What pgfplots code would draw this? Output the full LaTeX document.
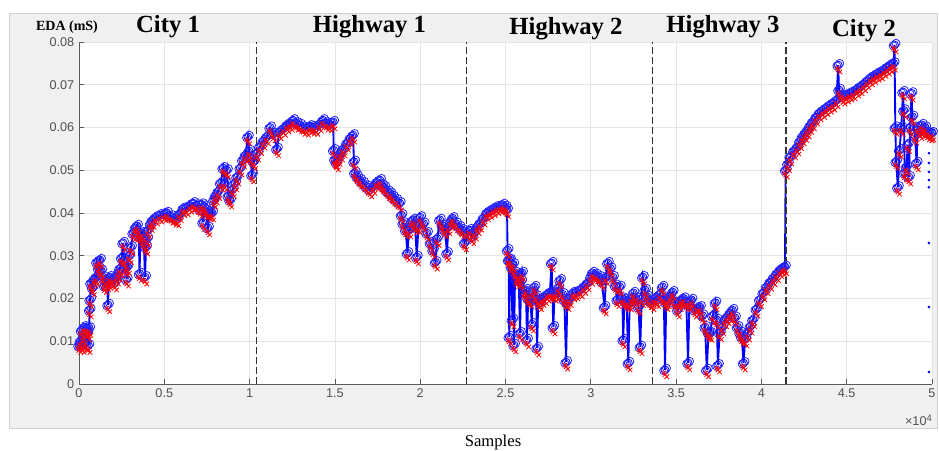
\documentclass[border=0pt]{standalone}
\usepackage{fontspec}
\setmainfont{Liberation Sans}
\newfontfamily\tnr{Liberation Serif}
\usepackage{pgfplots}
\usepackage{pgfplotstable}
\pgfplotsset{compat=1.18}
\definecolor{figgray}{HTML}{F0F0F0}
\definecolor{gridgray}{HTML}{E4E4E4}
\definecolor{axgray}{HTML}{5A5A5A}
\definecolor{tickgray}{HTML}{505050}
\definecolor{mblue}{RGB}{0,0,255}
\definecolor{mred}{RGB}{255,0,0}
\pgfplotstableread{
x b
0.000 0.0090
0.008 0.0100
0.015 0.0125
0.020 0.0090
0.025 0.0110
0.030 0.0133
0.038 0.0095
0.045 0.0130
0.050 0.0120
0.055 0.0090
0.060 0.0130
0.062 0.0173
0.065 0.0197
0.070 0.0236
0.080 0.0225
0.090 0.0245
0.100 0.0250
0.105 0.0285
0.115 0.0270
0.123 0.0290
0.130 0.0265
0.140 0.0250
0.150 0.0230
0.160 0.0240
0.165 0.0236
0.170 0.0185
0.175 0.0240
0.180 0.0250
0.195 0.0245
0.210 0.0236
0.220 0.0250
0.230 0.0260
0.240 0.0270
0.250 0.0295
0.258 0.0330
0.265 0.0290
0.275 0.0270
0.280 0.0245
0.285 0.0275
0.295 0.0300
0.305 0.0320
0.317 0.0353
0.330 0.0365
0.340 0.0370
0.350 0.0350
0.355 0.0258
0.360 0.0345
0.370 0.0353
0.380 0.0330
0.387 0.0250
0.393 0.0320
0.400 0.0340
0.405 0.0360
0.420 0.0375
0.430 0.0383
0.450 0.0390
0.475 0.0395
0.500 0.0398
0.515 0.0400
0.540 0.0392
0.560 0.0388
0.575 0.0386
0.590 0.0398
0.610 0.0410
0.630 0.0412
0.650 0.0418
0.670 0.0423
0.690 0.0418
0.710 0.0408
0.720 0.0420
0.727 0.0378
0.735 0.0415
0.745 0.0405
0.756 0.0365
0.765 0.0400
0.780 0.0400
0.790 0.0430
0.800 0.0440
0.815 0.0450
0.830 0.0470
0.845 0.0505
0.855 0.0470
0.867 0.0500
0.875 0.0440
0.885 0.0430
0.900 0.0455
0.915 0.0470
0.926 0.0484
0.945 0.0505
0.960 0.0524
0.975 0.0535
0.990 0.0578
0.997 0.0545
1.005 0.0530
1.014 0.0489
1.025 0.0520
1.043 0.0540
1.060 0.0555
1.080 0.0568
1.100 0.0578
1.120 0.0600
1.140 0.0585
1.160 0.0550
1.175 0.0590
1.200 0.0598
1.220 0.0606
1.240 0.0610
1.255 0.0617
1.275 0.0610
1.295 0.0606
1.315 0.0600
1.335 0.0598
1.355 0.0603
1.370 0.0601
1.390 0.0600
1.410 0.0608
1.430 0.0617
1.450 0.0610
1.470 0.0608
1.490 0.0613
1.493 0.0547
1.500 0.0525
1.510 0.0517
1.520 0.0530
1.535 0.0540
1.550 0.0550
1.570 0.0563
1.590 0.0575
1.606 0.0582
1.612 0.0520
1.617 0.0494
1.630 0.0485
1.647 0.0477
1.665 0.0470
1.685 0.0462
1.706 0.0454
1.725 0.0462
1.745 0.0472
1.764 0.0477
1.775 0.0465
1.790 0.0460
1.810 0.0450
1.825 0.0445
1.840 0.0437
1.860 0.0430
1.880 0.0423
1.890 0.0395
1.900 0.0376
1.915 0.0360
1.925 0.0306
1.935 0.0360
1.950 0.0380
1.960 0.0384
1.970 0.0370
1.980 0.0297
1.990 0.0370
2.000 0.0390
2.020 0.0375
2.040 0.0353
2.060 0.0330
2.075 0.0313
2.090 0.0285
2.100 0.0340
2.115 0.0384
2.130 0.0370
2.145 0.0360
2.157 0.0306
2.165 0.0367
2.180 0.0380
2.190 0.0388
2.210 0.0375
2.230 0.0367
2.245 0.0360
2.260 0.0330
2.275 0.0355
2.290 0.0360
2.305 0.0344
2.320 0.0355
2.335 0.0368
2.350 0.0376
2.370 0.0388
2.390 0.0400
2.410 0.0405
2.430 0.0410
2.450 0.0414
2.470 0.0416
2.485 0.0419
2.500 0.0414
2.509 0.0407
2.512 0.0313
2.518 0.0290
2.522 0.0110
2.526 0.0290
2.535 0.0274
2.540 0.0150
2.545 0.0280
2.550 0.0091
2.556 0.0260
2.567 0.0243
2.577 0.0255
2.585 0.0119
2.592 0.0240
2.597 0.0260
2.610 0.0213
2.620 0.0220
2.626 0.0103
2.633 0.0200
2.645 0.0197
2.655 0.0140
2.660 0.0215
2.670 0.0227
2.680 0.0205
2.685 0.0084
2.692 0.0195
2.700 0.0190
2.715 0.0200
2.730 0.0204
2.745 0.0210
2.760 0.0213
2.770 0.0283
2.775 0.0213
2.780 0.0133
2.788 0.0210
2.800 0.0213
2.810 0.0225
2.820 0.0243
2.835 0.0210
2.845 0.0197
2.855 0.0051
2.862 0.0190
2.875 0.0200
2.896 0.0213
2.915 0.0215
2.940 0.0220
2.960 0.0228
2.980 0.0236
3.000 0.0250
3.010 0.0260
3.030 0.0255
3.050 0.0250
3.065 0.0240
3.080 0.0180
3.090 0.0250
3.100 0.0283
3.115 0.0270
3.130 0.0250
3.145 0.0230
3.155 0.0197
3.170 0.0227
3.185 0.0200
3.190 0.0103
3.197 0.0197
3.210 0.0190
3.220 0.0049
3.228 0.0190
3.240 0.0200
3.250 0.0213
3.265 0.0200
3.280 0.0180
3.290 0.0087
3.298 0.0200
3.305 0.0250
3.318 0.0220
3.330 0.0204
3.345 0.0195
3.360 0.0190
3.375 0.0200
3.390 0.0197
3.405 0.0210
3.420 0.0227
3.428 0.0200
3.435 0.0033
3.442 0.0190
3.450 0.0197
3.465 0.0205
3.480 0.0215
3.495 0.0190
3.510 0.0173
3.520 0.0190
3.530 0.0197
3.545 0.0200
3.560 0.0190
3.570 0.0049
3.578 0.0190
3.590 0.0197
3.610 0.0173
3.625 0.0178
3.640 0.0180
3.655 0.0160
3.670 0.0133
3.680 0.0033
3.690 0.0120
3.700 0.0119
3.715 0.0160
3.730 0.0190
3.738 0.0150
3.745 0.0044
3.755 0.0120
3.770 0.0133
3.785 0.0150
3.800 0.0157
3.815 0.0165
3.830 0.0173
3.845 0.0155
3.860 0.0133
3.875 0.0120
3.885 0.0110
3.895 0.0049
3.905 0.0105
3.920 0.0119
3.935 0.0135
3.950 0.0150
3.970 0.0175
3.990 0.0197
4.010 0.0213
4.030 0.0227
4.050 0.0238
4.070 0.0248
4.090 0.0258
4.110 0.0267
4.125 0.0271
4.138 0.0274
4.142 0.0500
4.155 0.0515
4.168 0.0531
4.190 0.0545
4.210 0.0554
4.225 0.0567
4.240 0.0578
4.255 0.0586
4.270 0.0594
4.285 0.0604
4.300 0.0613
4.320 0.0624
4.340 0.0634
4.360 0.0640
4.380 0.0646
4.400 0.0652
4.420 0.0657
4.440 0.0664
4.450 0.0746
4.455 0.0688
4.470 0.0675
4.480 0.0671
4.500 0.0676
4.520 0.0680
4.540 0.0683
4.560 0.0690
4.580 0.0695
4.600 0.0702
4.620 0.0709
4.640 0.0716
4.660 0.0721
4.680 0.0726
4.700 0.0730
4.720 0.0736
4.740 0.0741
4.755 0.0746
4.775 0.0750
4.780 0.0793
4.785 0.0600
4.790 0.0520
4.800 0.0460
4.810 0.0547
4.820 0.0600
4.830 0.0683
4.835 0.0640
4.840 0.0494
4.850 0.0508
4.858 0.0560
4.865 0.0484
4.872 0.0600
4.880 0.0680
4.885 0.0625
4.900 0.0580
4.910 0.0517
4.915 0.0600
4.930 0.0590
4.940 0.0606
4.950 0.0595
4.960 0.0600
4.975 0.0587
4.990 0.0585
5.000 0.0587
}\eda
\begin{document}
\begin{tikzpicture}[x=0.75pt,y=0.75pt]
\useasboundingbox (0,0) rectangle (939,450);
\fill[white] (0,0) rectangle (939,450);
\filldraw[fill=figgray, draw=black!18, line width=0.6pt] (9,22) rectangle (937,437);
\begin{axis}[
  at={(59.25pt,49.5pt)}, anchor=south west,
  scale only axis, width=639.75pt, height=256.5pt,
  xmin=0, xmax=5, ymin=0, ymax=0.08,
  axis background/.style={fill=white},
  xtick={0,0.5,1,1.5,2,2.5,3,3.5,4,4.5,5},
  xticklabels={0,0.5,1,1.5,2,2.5,3,3.5,4,4.5,5},
  ytick={0,0.01,0.02,0.03,0.04,0.05,0.06,0.07,0.08},
  yticklabels={0,0.01,0.02,0.03,0.04,0.05,0.06,0.07,0.08},
  grid=major, major grid style={gridgray, line width=0.6pt},
  axis x line*=bottom, axis y line*=left,
  axis line style={axgray, line width=0.6pt, -},
  tick style={axgray, line width=0.6pt}, major tick length=3.5pt, tick align=inside,
  ticklabel style={font=\fontsize{9.5}{10}\selectfont, text=tickgray},
  scaled ticks=false, clip=false,
]
% blue signal with circle markers (peaks)
\addplot[mblue, line width=1.4pt, mark=o, mark size=3pt, mark options={solid, line width=0.6pt}] table[x=x, y=b]{\eda};
\addplot[only marks, mblue!85!white, mark=o, mark size=3pt, mark options={line width=0.6pt}] table[x expr=\thisrow{x}+0.009, y expr=\thisrow{b}+0.0004]{\eda};
\addplot[only marks, mblue!85!white, mark=o, mark size=3pt, mark options={line width=0.6pt}] table[x expr=\thisrow{x}-0.008, y expr=\thisrow{b}-0.0002]{\eda};
% red x markers (troughs)
\addplot[only marks, mred, mark=x, mark size=2.4pt, mark options={line width=0.6pt}] table[x=x, y expr=\thisrow{b}-0.0011]{\eda};
\addplot[only marks, mred, mark=x, mark size=2.4pt, mark options={line width=0.6pt}] table[x expr=\thisrow{x}+0.010, y expr=\thisrow{b}-0.0016]{\eda};
\addplot[only marks, mred, mark=x, mark size=2.4pt, mark options={line width=0.6pt}] table[x expr=\thisrow{x}-0.006, y expr=\thisrow{b}-0.0007]{\eda};
\addplot[only marks, mblue, mark=*, mark size=0.8pt] coordinates {(4.982,0.054)(4.982,0.0517)(4.982,0.0496)(4.982,0.0477)(4.982,0.046)(4.982,0.033)(4.982,0.018)(4.982,0.0028)};
\addplot[black!80, dash pattern=on 5pt off 2.5pt, line width=0.8pt] coordinates {(1.043,0)(1.043,0.08)};
\addplot[black!80, dash pattern=on 5pt off 2.5pt, line width=0.8pt] coordinates {(2.274,0)(2.274,0.08)};
\addplot[black!80, dash pattern=on 5pt off 2.5pt, line width=0.8pt] coordinates {(3.359,0)(3.359,0.08)};
\addplot[black!80, dash pattern=on 5pt off 2.5pt, line width=0.8pt] coordinates {(4.144,0)(4.144,0.08)};
\end{axis}
\begin{scope}[every node/.style={inner sep=0pt, anchor=base, font=\tnr\bfseries\fontsize{18.5}{20}\selectfont}]
\node at (168,417) {City 1};
\node at (369.5,417) {Highway 1};
\node at (566,415) {Highway 2};
\node at (723,417) {Highway 3};
\node at (864,413) {City 2};
\end{scope}
\node[inner sep=0pt, anchor=base, font=\tnr\bfseries\fontsize{10.5}{12}\selectfont] at (67,419) {EDA (mS)};
\node[inner sep=0pt, anchor=base east, font=\fontsize{9.5}{10}\selectfont, text=tickgray] at (932,25) {×10\raisebox{0.55ex}{\fontsize{7}{8}\selectfont 4}};
\node[inner sep=0pt, anchor=base, font=\tnr\fontsize{12.5}{14}\selectfont] at (493,4) {Samples};
\end{tikzpicture}
\end{document}
